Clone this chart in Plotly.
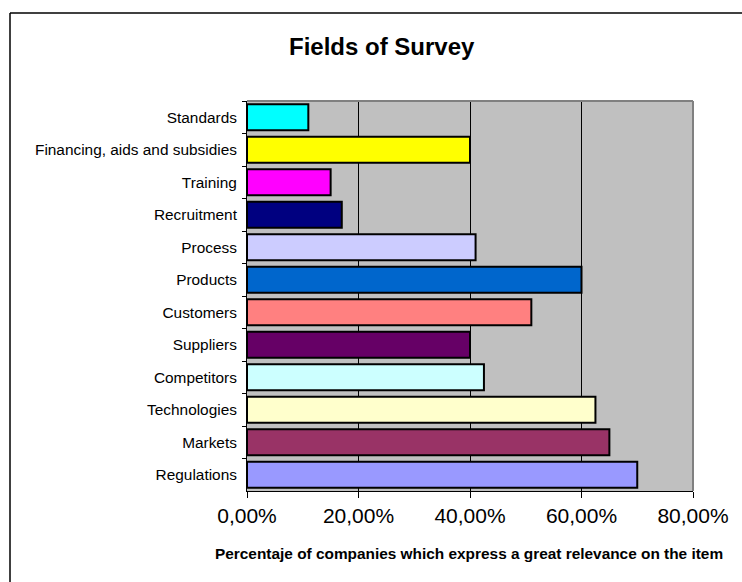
import plotly.graph_objects as go

categories = ["Standards", "Financing, aids and subsidies", "Training", "Recruitment",
              "Process", "Products", "Customers", "Suppliers", "Competitors",
              "Technologies", "Markets", "Regulations"]
values = [0.11, 0.40, 0.15, 0.17, 0.41, 0.60, 0.51, 0.40, 0.425, 0.625, 0.65, 0.70]
colors = ["#00FFFF", "#FFFF00", "#FF00FF", "#000080", "#CCCCFF", "#0066CC",
          "#FF8080", "#660066", "#CCFFFF", "#FFFFCC", "#993366", "#9999FF"]
x_tickvals = [0, 0.2, 0.4, 0.6, 0.8]
x_ticktext = ["0,00%", "20,00%", "40,00%", "60,00%", "80,00%"]

FONT = "Liberation Sans, Arial, sans-serif"

fig = go.Figure(go.Bar(
    y=categories, x=values, orientation="h",
    marker=dict(color=colors, line=dict(color="black", width=2)),
    width=0.8, showlegend=False, hoverinfo="x+y",
))

W, H = 742, 582
L, R, T, B = 247, 693, 101, 491
pw, ph = R - L, B - T

def px(x):
    return (x - L) / pw

def py(y):
    return (B - y) / ph

fig.update_layout(
    width=W, height=H,
    margin=dict(l=L, r=W - R, t=T, b=H - B, pad=0),
    paper_bgcolor="white", plot_bgcolor="#C0C0C0",
    font=dict(family=FONT, color="black"),
    bargap=0.2,
    xaxis=dict(range=[0, 0.8], tickvals=x_tickvals, ticktext=x_ticktext,
               showgrid=True, gridcolor="black", gridwidth=1,
               showline=True, linecolor="black", linewidth=1,
               ticks="outside", ticklen=6, tickcolor="black",
               tickfont=dict(size=21, family=FONT), zeroline=False, fixedrange=True),
    yaxis=dict(autorange="reversed", tickson="boundaries",
               ticks="outside", ticklen=4, tickcolor="black",
               showline=True, linecolor="black", linewidth=1,
               ticklabelstandoff=6,
               showgrid=False, tickfont=dict(size=15.4, family=FONT), fixedrange=True),
    shapes=[
        # outer chart border: only left and top edges are visible
        dict(type="line", xref="paper", yref="paper",
             x0=px(10), x1=px(10), y0=py(582), y1=py(13),
             line=dict(color="black", width=1.5), layer="below"),
        dict(type="line", xref="paper", yref="paper",
             x0=px(10), x1=px(742), y0=py(13), y1=py(13),
             line=dict(color="black", width=1.5), layer="below"),
        # plot area top and right gray border
        dict(type="line", xref="paper", yref="paper", x0=0, x1=1, y0=1, y1=1,
             line=dict(color="#808080", width=2)),
        dict(type="line", xref="paper", yref="paper", x0=1, x1=1, y0=0, y1=1,
             line=dict(color="#808080", width=2)),
    ],
    annotations=[
        dict(text="<b>Fields of Survey</b>", xref="paper", yref="paper",
             x=px(381.5), y=py(46), xanchor="center", yanchor="middle",
             showarrow=False, font=dict(size=24, family=FONT)),
        dict(text="<b>Percentaje of companies which express a great relevance on the item</b>",
             xref="paper", yref="paper", x=px(469), y=py(553),
             xanchor="center", yanchor="middle", showarrow=False,
             font=dict(size=15.4, family=FONT)),
    ],
)

fig.write_html("out.html")
